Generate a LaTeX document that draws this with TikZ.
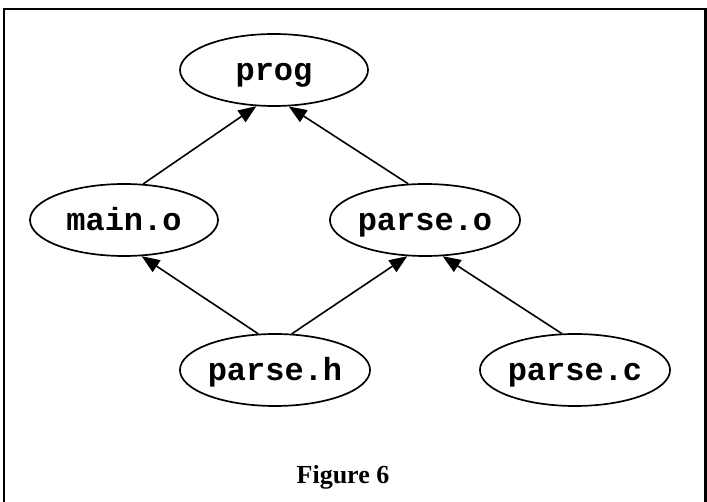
\documentclass[tikz,border=0pt]{standalone}
\usepackage{fontspec}
\setmainfont{Liberation Serif}
\setmonofont{Liberation Mono}
\usetikzlibrary{arrows.meta,shapes.geometric}
\begin{document}
\begin{tikzpicture}[x=1pt,y=-1pt,
  file/.style={ellipse,draw,line width=1.7pt,minimum width=188pt,minimum height=72pt,inner sep=0pt,
    text height=24pt,text depth=2pt,
    font=\fontsize{32}{32}\selectfont\ttfamily\bfseries},
  dep/.style={line width=1.6pt,-{Triangle[length=18pt,width=14pt]}}]
\useasboundingbox (0,0) rectangle (707,502);
\draw[line width=2.6pt] (4,506) -- (4,9) -- (705.5,9) -- (705.5,506);
\node[file] (prog) at (274,70) {prog};
\node[file] (main) at (124,220) {main.o};
\node[file] (parseo) at (425,220) {parse.o};
\node[file] (parseh) at (275,370) {parse.h};
\node[file,minimum width=186pt] (parsec) at (575,370) {parse.c};
\node[font=\fontsize{26}{26}\selectfont\bfseries,anchor=base] (cap) at (343,483) {Figure 6};
\draw[dep] (main.62) -- (prog.244);
\draw[dep] (parseo.115) -- (prog.292);
\draw[dep] (parseh.115) -- (main.296);
\draw[dep] (parseh.65) -- (parseo.244);
\draw[dep] (parsec.110) -- (parseo.296);
\end{tikzpicture}
\end{document}
